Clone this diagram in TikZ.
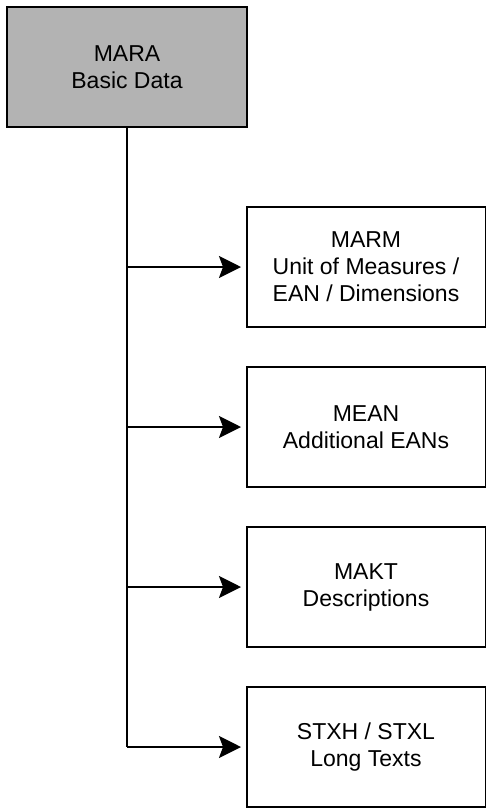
\documentclass[tikz,border=0pt]{standalone}
\usepackage{fontspec}
\setmainfont{Liberation Sans}
\usetikzlibrary{arrows.meta}
\definecolor{maragray}{RGB}{179,179,179}
\begin{document}
\begin{tikzpicture}[x=1pt,y=-1pt,
  box/.style={draw=black,line width=2pt,fill=white,minimum width=239pt,minimum height=120pt,
    align=center,inner sep=0pt,font=\fontsize{23pt}{27pt}\selectfont},
  link/.style={line width=2pt,-{Stealth[length=22pt,width=22pt,inset=4pt]},shorten >=4.5pt}]
\useasboundingbox (0,0) rectangle (485,809);
\node[box,fill=maragray,minimum width=240pt] (mara) at (127,67) {MARA\\Basic Data};
\node[box] (marm) at (366,267) {MARM\\Unit of Measures /\\EAN / Dimensions};
\node[box] (mean) at (366,427) {MEAN\\Additional EANs};
\node[box] (makt) at (366,587) {MAKT\\Descriptions};
\node[box] (stxh) at (366,747) {STXH / STXL\\Long Texts};
\coordinate (j1) at (127,267);
\coordinate (j2) at (127,427);
\coordinate (j3) at (127,587);
\coordinate (j4) at (127,747);
\draw[line width=2pt] (mara.south) -- (j4);
\draw[link] (j1) -- (marm);
\draw[link] (j2) -- (mean);
\draw[link] (j3) -- (makt);
\draw[link] (j4) -- (stxh);
\end{tikzpicture}
\end{document}
